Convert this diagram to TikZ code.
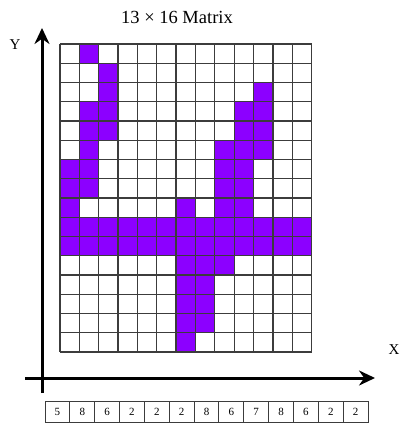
\documentclass[tikz,border=0pt]{standalone}
\usepackage{fontspec}
\setmainfont{Liberation Serif}
\usetikzlibrary{arrows.meta}
\definecolor{cellpurple}{RGB}{140,0,255}
\definecolor{gridgray}{RGB}{60,60,60}
\begin{document}
\begin{tikzpicture}[x=1pt,y=-1pt,>={Stealth[length=16pt,width=15pt]}]
  \useasboundingbox (0,0) rectangle (401,427);
  \begin{scope}[shift={(60,44)},x=19.35pt,y=-19.25pt]
    \foreach \c/\r in {1/0,2/1,2/2,10/2,1/3,2/3,9/3,10/3,1/4,2/4,9/4,10/4,
      1/5,8/5,9/5,10/5,0/6,1/6,8/6,9/6,0/7,1/7,8/7,9/7,0/8,6/8,8/8,9/8,
      6/11,7/11,8/11,6/12,7/12,6/13,7/13,6/14,7/14,6/15}
      \fill[cellpurple] (\c,\r) rectangle +(1,1);
    \fill[cellpurple] (0,9) rectangle (13,11);
    \foreach \c in {0,...,13} \draw[gridgray,line width=1.3pt] (\c,0) -- (\c,16);
    \foreach \r in {0,...,16} \draw[gridgray,line width=1.3pt] (0,\r) -- (13,\r);
  \end{scope}
  \draw[line width=3pt,->] (42,393) -- (42,28);
  \draw[line width=3pt,->] (25,378) -- (375,378);
  \node (ylab) at (15,45) {\fontsize{15}{15}\selectfont Y};
  \node (xlab) at (394,350) {\fontsize{15}{15}\selectfont X};
  \node (title) at (177,17) {\fontsize{18.5}{18.5}\selectfont 13 × 16 Matrix};
  \foreach \v [count=\i from 0] in {5,8,6,2,2,2,8,6,7,8,6,2,2}
    \node[draw=gridgray,line width=0.9pt,minimum width=24.85pt,minimum height=21pt,
      inner sep=0pt,font=\fontsize{11}{11}\selectfont] (n\i) at (57.4+24.85*\i,411.5) {\v};
\end{tikzpicture}
\end{document}
